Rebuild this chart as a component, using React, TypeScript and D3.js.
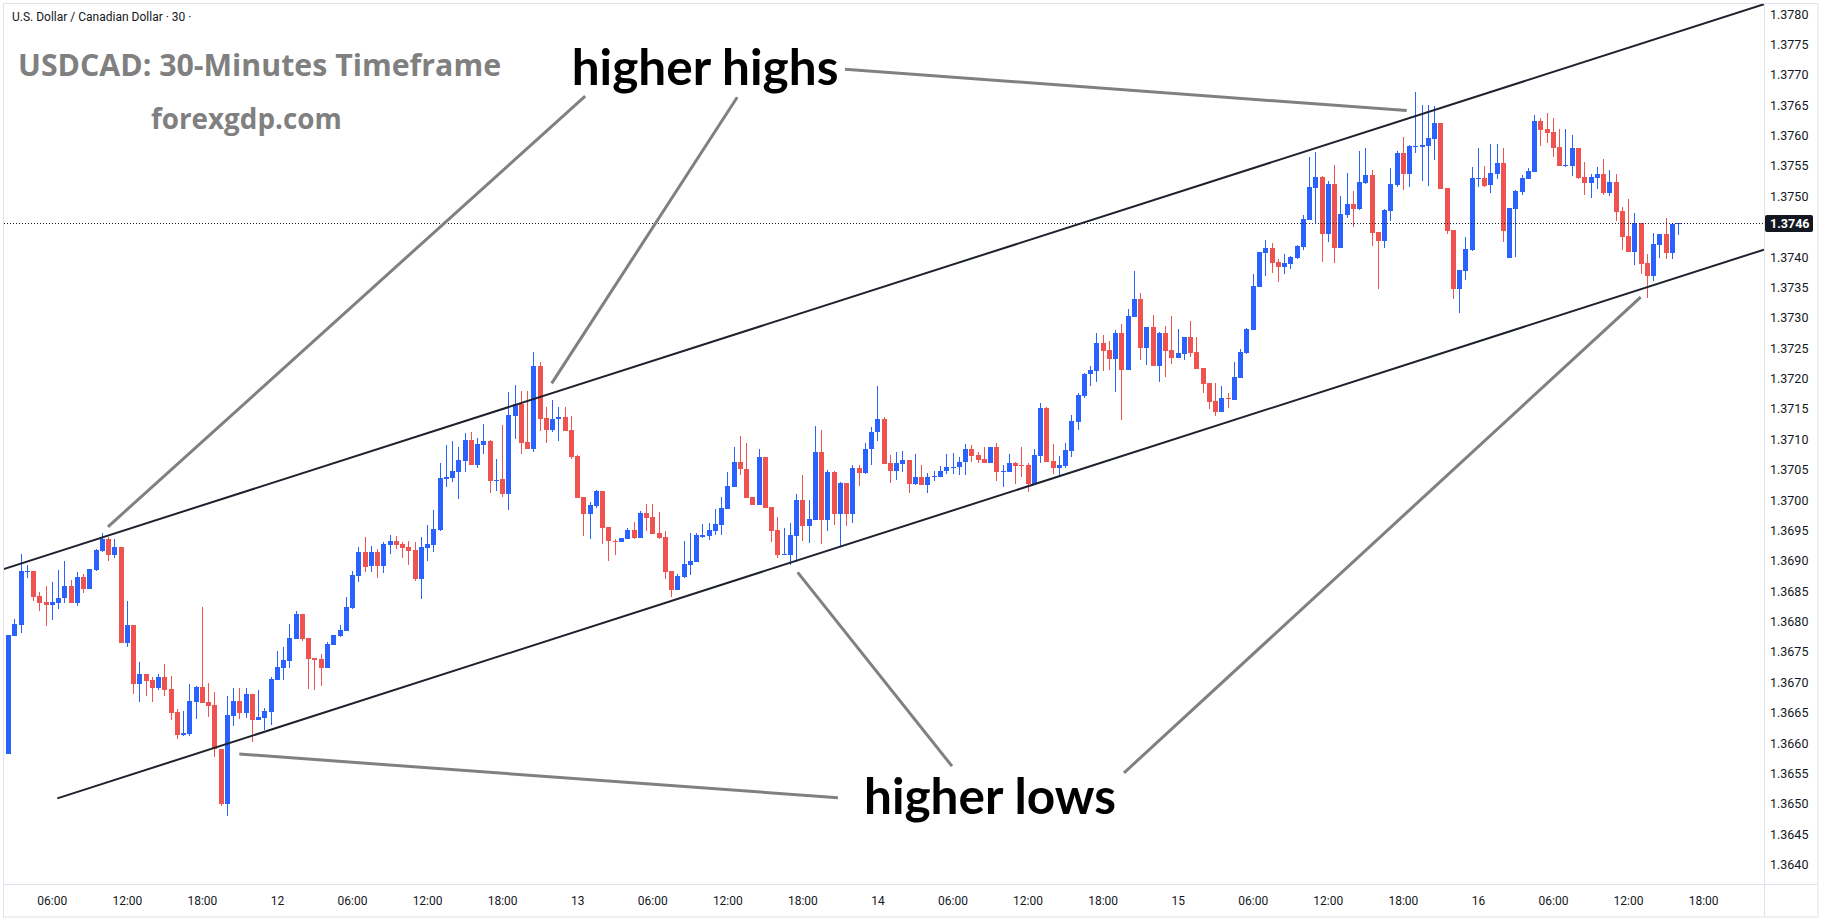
import * as d3 from 'd3'
import React from 'react'

// USDCAD 30-minute candles, first bar = day 11, 02:30
const FIRST_BAR = Date.UTC(2023, 8, 11, 2, 30)
const BAR_MS = 30 * 60 * 1000

const opens = [
  1.36582, 1.36777, 1.36794, 1.36882, 1.36883, 1.36842, 1.36832, 1.36828, 1.36831, 1.36838,
  1.36859, 1.36831, 1.36873, 1.36854, 1.36885, 1.36916, 1.36936, 1.36910, 1.36923, 1.36765,
  1.36794, 1.36697, 1.36714, 1.36704, 1.36691, 1.36709, 1.36689, 1.36651, 1.36613, 1.36615,
  1.36668, 1.36692, 1.36668, 1.36663, 1.36590, 1.36500, 1.36645, 1.36669, 1.36650, 1.36681,
  1.36638, 1.36641, 1.36651, 1.36704, 1.36724, 1.36735, 1.36771, 1.36812, 1.36773, 1.36740,
  1.36738, 1.36724, 1.36761, 1.36776, 1.36784, 1.36822, 1.36875, 1.36915, 1.36892, 1.36915,
  1.36892, 1.36926, 1.36933, 1.36928, 1.36923, 1.36918, 1.36870, 1.36921, 1.36926, 1.36951,
  1.37035, 1.37036, 1.37046, 1.37064, 1.37099, 1.37058, 1.37091, 1.37097, 1.37031, 1.37035,
  1.37010, 1.37138, 1.37158, 1.37096, 1.37084, 1.37221, 1.37135, 1.37115, 1.37133, 1.37137,
  1.37115, 1.37073, 1.37005, 1.36977, 1.36990, 1.37015, 1.36956, 1.36933, 1.36931, 1.36936,
  1.36951, 1.36938, 1.36979, 1.36972, 1.36946, 1.36939, 1.36883, 1.36852, 1.36873, 1.36893,
  1.36898, 1.36939, 1.36941, 1.36949, 1.36959, 1.36985, 1.37022, 1.37063, 1.37051, 1.37005,
  1.36992, 1.37071, 1.36989, 1.36951, 1.36910, 1.36910, 1.36941, 1.37000, 1.36957, 1.36967,
  1.37079, 1.36967, 1.37046, 1.36977, 1.37028, 1.36977, 1.37053, 1.37045, 1.37084, 1.37112,
  1.37133, 1.37061, 1.37048, 1.37059, 1.37066, 1.37026, 1.37038, 1.37025, 1.37038, 1.37038,
  1.37048, 1.37053, 1.37054, 1.37063, 1.37084, 1.37074, 1.37068, 1.37061, 1.37087, 1.37046,
  1.37046, 1.37061, 1.37058, 1.37058, 1.37026, 1.37073, 1.37152, 1.37064, 1.37053, 1.37056,
  1.37081, 1.37128, 1.37171, 1.37208, 1.37212, 1.37259, 1.37247, 1.37232, 1.37275, 1.37214,
  1.37301, 1.37331, 1.37250, 1.37285, 1.37221, 1.37275, 1.37247, 1.37234, 1.37240, 1.37268,
  1.37244, 1.37217, 1.37193, 1.37163, 1.37145, 1.37168, 1.37165, 1.37201, 1.37242, 1.37280,
  1.37351, 1.37407, 1.37415, 1.37392, 1.37384, 1.37389, 1.37398, 1.37416, 1.37461, 1.37514,
  1.37532, 1.37438, 1.37520, 1.37415, 1.37469, 1.37487, 1.37479, 1.37522, 1.37535, 1.37441,
  1.37426, 1.37476, 1.37519, 1.37571, 1.37537, 1.37581, 1.37581, 1.37583, 1.37594, 1.37621,
  1.37514, 1.37444, 1.37347, 1.37377, 1.37412, 1.37529, 1.37530, 1.37519, 1.37537, 1.37555,
  1.37398, 1.37479, 1.37507, 1.37528, 1.37540, 1.37624, 1.37611, 1.37606, 1.37581, 1.37550,
  1.37550, 1.37579, 1.37532, 1.37522, 1.37530, 1.37537, 1.37505, 1.37523, 1.37476, 1.37435,
  1.37408, 1.37456, 1.37390, 1.37369, 1.37420, 1.37438, 1.37407, 1.37454,
]

const highs = [
  1.36778, 1.36804, 1.36911, 1.36893, 1.36883, 1.36849, 1.36859, 1.36865, 1.36885, 1.36900,
  1.36868, 1.36882, 1.36878, 1.36887, 1.36920, 1.36946, 1.36940, 1.36936, 1.36923, 1.36834,
  1.36794, 1.36734, 1.36714, 1.36709, 1.36714, 1.36730, 1.36710, 1.36656, 1.36653, 1.36697,
  1.36694, 1.36824, 1.36699, 1.36684, 1.36590, 1.36678, 1.36691, 1.36691, 1.36691, 1.36681,
  1.36687, 1.36658, 1.36709, 1.36752, 1.36758, 1.36796, 1.36817, 1.36812, 1.36773, 1.36740,
  1.36747, 1.36766, 1.36778, 1.36794, 1.36840, 1.36883, 1.36923, 1.36939, 1.36924, 1.36920,
  1.36931, 1.36943, 1.36941, 1.36931, 1.36933, 1.36931, 1.36939, 1.36959, 1.36984, 1.37061,
  1.37091, 1.37097, 1.37087, 1.37110, 1.37112, 1.37102, 1.37125, 1.37099, 1.37068, 1.37124,
  1.37178, 1.37189, 1.37180, 1.37180, 1.37244, 1.37227, 1.37153, 1.37165, 1.37153, 1.37153,
  1.37138, 1.37074, 1.37005, 1.36997, 1.37017, 1.37015, 1.36956, 1.36936, 1.36938, 1.36954,
  1.36964, 1.36982, 1.36994, 1.36994, 1.36980, 1.36949, 1.36883, 1.36878, 1.36933, 1.36946,
  1.36946, 1.36961, 1.36962, 1.36985, 1.37005, 1.37046, 1.37087, 1.37105, 1.37094, 1.37005,
  1.37084, 1.37071, 1.36989, 1.36972, 1.36954, 1.36962, 1.37010, 1.37041, 1.37000, 1.37122,
  1.37115, 1.37049, 1.37048, 1.37030, 1.37028, 1.37058, 1.37058, 1.37094, 1.37120, 1.37188,
  1.37137, 1.37074, 1.37079, 1.37081, 1.37066, 1.37076, 1.37058, 1.37045, 1.37048, 1.37056,
  1.37076, 1.37077, 1.37071, 1.37092, 1.37091, 1.37079, 1.37087, 1.37087, 1.37094, 1.37058,
  1.37076, 1.37063, 1.37087, 1.37061, 1.37084, 1.37160, 1.37153, 1.37092, 1.37073, 1.37094,
  1.37140, 1.37176, 1.37209, 1.37221, 1.37275, 1.37272, 1.37262, 1.37280, 1.37290, 1.37314,
  1.37377, 1.37341, 1.37285, 1.37305, 1.37277, 1.37286, 1.37303, 1.37282, 1.37268, 1.37295,
  1.37268, 1.37217, 1.37193, 1.37193, 1.37188, 1.37176, 1.37227, 1.37249, 1.37283, 1.37372,
  1.37408, 1.37428, 1.37423, 1.37397, 1.37405, 1.37402, 1.37420, 1.37469, 1.37565, 1.37573,
  1.37533, 1.37525, 1.37551, 1.37500, 1.37538, 1.37509, 1.37574, 1.37579, 1.37543, 1.37441,
  1.37479, 1.37547, 1.37574, 1.37598, 1.37584, 1.37672, 1.37650, 1.37650, 1.37649, 1.37621,
  1.37514, 1.37444, 1.37379, 1.37433, 1.37548, 1.37579, 1.37550, 1.37586, 1.37586, 1.37579,
  1.37481, 1.37510, 1.37535, 1.37547, 1.37634, 1.37629, 1.37637, 1.37629, 1.37611, 1.37611,
  1.37601, 1.37579, 1.37556, 1.37537, 1.37548, 1.37561, 1.37543, 1.37537, 1.37482, 1.37495,
  1.37472, 1.37456, 1.37405, 1.37439, 1.37438, 1.37464, 1.37456, 1.37456,
]

const lows = [
  1.36582, 1.36777, 1.36782, 1.36872, 1.36834, 1.36818, 1.36792, 1.36803, 1.36821, 1.36830,
  1.36831, 1.36825, 1.36847, 1.36854, 1.36884, 1.36915, 1.36900, 1.36905, 1.36765, 1.36758,
  1.36681, 1.36668, 1.36678, 1.36668, 1.36687, 1.36678, 1.36638, 1.36607, 1.36612, 1.36612,
  1.36640, 1.36666, 1.36643, 1.36577, 1.36496, 1.36480, 1.36628, 1.36640, 1.36641, 1.36602,
  1.36638, 1.36622, 1.36630, 1.36704, 1.36704, 1.36724, 1.36771, 1.36768, 1.36689, 1.36687,
  1.36694, 1.36724, 1.36761, 1.36775, 1.36784, 1.36821, 1.36865, 1.36882, 1.36882, 1.36872,
  1.36880, 1.36911, 1.36920, 1.36905, 1.36893, 1.36867, 1.36837, 1.36900, 1.36915, 1.36949,
  1.37022, 1.37030, 1.37002, 1.37046, 1.37058, 1.37053, 1.37076, 1.37012, 1.37015, 1.37005,
  1.36984, 1.37101, 1.37076, 1.37084, 1.37079, 1.37114, 1.37094, 1.37112, 1.37097, 1.37114,
  1.37068, 1.37003, 1.36941, 1.36936, 1.36987, 1.36928, 1.36900, 1.36910, 1.36931, 1.36936,
  1.36936, 1.36938, 1.36949, 1.36944, 1.36936, 1.36870, 1.36840, 1.36852, 1.36872, 1.36877,
  1.36898, 1.36938, 1.36934, 1.36943, 1.36943, 1.36985, 1.37022, 1.37041, 1.37003, 1.36992,
  1.36992, 1.36987, 1.36931, 1.36905, 1.36910, 1.36893, 1.36898, 1.36933, 1.36929, 1.36967,
  1.36928, 1.36949, 1.36959, 1.36923, 1.36957, 1.36962, 1.37023, 1.37043, 1.37058, 1.37097,
  1.37059, 1.37028, 1.37033, 1.37046, 1.37012, 1.37025, 1.37025, 1.37012, 1.37031, 1.37038,
  1.37043, 1.37043, 1.37041, 1.37041, 1.37063, 1.37061, 1.37061, 1.37061, 1.37031, 1.37022,
  1.37046, 1.37026, 1.37038, 1.37013, 1.37026, 1.37061, 1.37063, 1.37043, 1.37040, 1.37053,
  1.37071, 1.37115, 1.37168, 1.37188, 1.37194, 1.37212, 1.37214, 1.37178, 1.37132, 1.37214,
  1.37301, 1.37231, 1.37222, 1.37221, 1.37194, 1.37202, 1.37224, 1.37234, 1.37231, 1.37235,
  1.37216, 1.37176, 1.37150, 1.37138, 1.37145, 1.37152, 1.37165, 1.37201, 1.37240, 1.37280,
  1.37351, 1.37369, 1.37374, 1.37359, 1.37372, 1.37380, 1.37397, 1.37412, 1.37461, 1.37456,
  1.37392, 1.37425, 1.37390, 1.37415, 1.37464, 1.37450, 1.37477, 1.37520, 1.37418, 1.37347,
  1.37415, 1.37459, 1.37515, 1.37510, 1.37515, 1.37571, 1.37525, 1.37517, 1.37560, 1.37512,
  1.37438, 1.37331, 1.37308, 1.37362, 1.37410, 1.37515, 1.37515, 1.37505, 1.37528, 1.37425,
  1.37398, 1.37400, 1.37502, 1.37528, 1.37540, 1.37583, 1.37588, 1.37565, 1.37550, 1.37548,
  1.37533, 1.37528, 1.37502, 1.37497, 1.37512, 1.37502, 1.37500, 1.37459, 1.37412, 1.37408,
  1.37387, 1.37372, 1.37333, 1.37361, 1.37398, 1.37397, 1.37397, 1.37436,
]

const closes = [
  1.36778, 1.36796, 1.36883, 1.36883, 1.36841, 1.36831, 1.36828, 1.36832, 1.36839, 1.36859,
  1.36831, 1.36873, 1.36854, 1.36887, 1.36918, 1.36936, 1.36910, 1.36923, 1.36765, 1.36794,
  1.36697, 1.36714, 1.36702, 1.36691, 1.36709, 1.36687, 1.36650, 1.36613, 1.36617, 1.36669,
  1.36692, 1.36666, 1.36661, 1.36590, 1.36500, 1.36646, 1.36669, 1.36650, 1.36681, 1.36638,
  1.36643, 1.36653, 1.36706, 1.36725, 1.36737, 1.36773, 1.36812, 1.36771, 1.36738, 1.36737,
  1.36724, 1.36763, 1.36778, 1.36786, 1.36824, 1.36877, 1.36915, 1.36890, 1.36915, 1.36892,
  1.36928, 1.36933, 1.36926, 1.36921, 1.36916, 1.36870, 1.36923, 1.36928, 1.36952, 1.37036,
  1.37038, 1.37048, 1.37066, 1.37099, 1.37058, 1.37092, 1.37097, 1.37031, 1.37033, 1.37010,
  1.37140, 1.37158, 1.37094, 1.37084, 1.37221, 1.37133, 1.37115, 1.37133, 1.37137, 1.37114,
  1.37071, 1.37003, 1.36977, 1.36992, 1.37015, 1.36954, 1.36933, 1.36931, 1.36938, 1.36951,
  1.36938, 1.36979, 1.36971, 1.36944, 1.36938, 1.36882, 1.36852, 1.36875, 1.36895, 1.36900,
  1.36943, 1.36943, 1.36951, 1.36961, 1.36987, 1.37023, 1.37063, 1.37051, 1.37003, 1.36992,
  1.37071, 1.36987, 1.36949, 1.36910, 1.36911, 1.36943, 1.37000, 1.36957, 1.36969, 1.37079,
  1.36967, 1.37046, 1.36977, 1.37028, 1.36977, 1.37053, 1.37045, 1.37084, 1.37112, 1.37133,
  1.37059, 1.37048, 1.37061, 1.37066, 1.37026, 1.37038, 1.37025, 1.37038, 1.37039, 1.37048,
  1.37054, 1.37055, 1.37063, 1.37084, 1.37073, 1.37066, 1.37061, 1.37087, 1.37046, 1.37048,
  1.37061, 1.37056, 1.37056, 1.37026, 1.37074, 1.37152, 1.37063, 1.37053, 1.37058, 1.37082,
  1.37130, 1.37173, 1.37208, 1.37214, 1.37259, 1.37245, 1.37232, 1.37275, 1.37214, 1.37303,
  1.37331, 1.37250, 1.37285, 1.37221, 1.37275, 1.37245, 1.37234, 1.37242, 1.37268, 1.37242,
  1.37216, 1.37191, 1.37161, 1.37145, 1.37168, 1.37166, 1.37203, 1.37244, 1.37282, 1.37352,
  1.37408, 1.37415, 1.37390, 1.37384, 1.37390, 1.37400, 1.37418, 1.37463, 1.37515, 1.37532,
  1.37438, 1.37520, 1.37415, 1.37471, 1.37487, 1.37479, 1.37523, 1.37535, 1.37440, 1.37426,
  1.37477, 1.37520, 1.37571, 1.37537, 1.37583, 1.37583, 1.37584, 1.37596, 1.37621, 1.37512,
  1.37443, 1.37347, 1.37379, 1.37413, 1.37530, 1.37530, 1.37517, 1.37538, 1.37555, 1.37443,
  1.37481, 1.37509, 1.37530, 1.37542, 1.37624, 1.37609, 1.37604, 1.37579, 1.37550, 1.37551,
  1.37579, 1.37530, 1.37522, 1.37532, 1.37537, 1.37505, 1.37523, 1.37474, 1.37433, 1.37408,
  1.37456, 1.37389, 1.37369, 1.37421, 1.37438, 1.37407, 1.37454, 1.37456,
]

// price axis range and step
const priceMin = 1.364
const priceMax = 1.378
const priceStep = 0.0005

// drawings: [bar index, price]
const upperChannel = [[0, 1.36889], [267, 1.37771]]
const lowerChannel = [[7.8, 1.36509], [267, 1.37367]]
const pointerLines = [
  [[92.2, 1.37665], [15.9, 1.36956]],
  [[116.5, 1.37663], [86.84, 1.37192]],
  [[133.73, 1.37709], [223.54, 1.37641]],
  [[132.6, 1.36510], [36.9, 1.36582]],
  [[150.84, 1.36562], [126.17, 1.36881]],
  [[178.34, 1.36551], [260.94, 1.37334]],
]
const noteLabels = ['higher highs', 'higher lows']
const noteAnchors = [[90.04, 1.37683], [136.77, 1.36483]]

const W = 1823
const H = 921
const PANE_L = 4
const PANE_T = 4
const PANE_R = 1764
const PANE_B = 884
const FRAME_R = 1818
const FRAME_B = 917
const BLUE = '#2962ff'
const RED = '#ef5350'
const INK = '#131722'
const AXIS_FONT = 'Roboto, "Liberation Sans", Arial, sans-serif'

export default function App() {
  const x = d3.scaleLinear().domain([0, 267]).range([8.5, 8.5 + 267 * 6.255])
  const y = d3.scaleLinear().domain([priceMin, priceMax]).range([864.6, 14])

  const yTicks = d3.range(0, Math.round((priceMax - priceMin) / priceStep) + 1).map((k) => priceMin + k * priceStep)

  const timeOf = (i: number) => new Date(FIRST_BAR + i * BAR_MS)
  const fmtHour = d3.utcFormat('%H:%M')
  const fmtDay = d3.utcFormat('%-d')
  const xTicks = d3
    .range(Math.ceil(x.invert(PANE_L)), Math.floor(x.invert(PANE_R - 20)) + 1)
    .filter((i) => {
      const t = timeOf(i)
      return t.getUTCMinutes() === 0 && t.getUTCHours() % 6 === 0
    })

  const candles = opens.map((o, i) => ({ i, o, h: highs[i], l: lows[i], c: closes[i] }))
  const last = closes[closes.length - 1]

  const extend = (pts: number[][], left: boolean, right: boolean) => {
    const x1 = x(pts[0][0]), y1 = y(pts[0][1])
    const x2 = x(pts[1][0]), y2 = y(pts[1][1])
    const m = (y2 - y1) / (x2 - x1)
    const xa = left ? 0 : x1
    const xb = right ? PANE_R : x2
    return { x1: xa, y1: y1 + m * (xa - x1), x2: xb, y2: y1 + m * (xb - x1) }
  }
  const up = extend(upperChannel, true, true)
  const lo = extend(lowerChannel, false, true)

  return (
    <svg
      width={W}
      height={H}
      style={{ position: 'absolute', left: 0, top: 0, background: '#fff' }}
    >
      <defs>
        <clipPath id="pane">
          <rect x={PANE_L} y={PANE_T} width={PANE_R - PANE_L} height={PANE_B - PANE_T} />
        </clipPath>
      </defs>
      <rect x={0} y={0} width={W} height={H} fill="#fff" />

      <g clipPath="url(#pane)">
        {candles.map((d) => {
          const left = Math.round(x(d.i) - 2.5)
          const col = d.c >= d.o ? BLUE : RED
          const top = Math.round(y(Math.max(d.o, d.c)))
          const bot = Math.round(y(Math.min(d.o, d.c)))
          const wt = Math.round(y(d.h))
          const wb = Math.round(y(d.l))
          return (
            <g key={d.i}>
              <rect x={left + 2} y={wt} width={1} height={Math.max(1, wb - wt)} fill={col} />
              <rect x={left} y={top} width={5} height={Math.max(1, bot - top)} fill={col} />
            </g>
          )
        })}

        <line
          x1={PANE_L}
          x2={PANE_R}
          y1={Math.round(y(last)) + 0.5}
          y2={Math.round(y(last)) + 0.5}
          stroke={INK}
          strokeWidth={1}
          strokeDasharray="1 2"
        />

        <line {...up} stroke="#1e222d" strokeWidth={2} />
        <line {...lo} stroke="#1e222d" strokeWidth={2} />

        {pointerLines.map((p, k) => (
          <line
            key={k}
            x1={x(p[0][0])}
            y1={y(p[0][1])}
            x2={x(p[1][0])}
            y2={y(p[1][1])}
            stroke="#808080"
            strokeWidth={3}
          />
        ))}
      </g>

      {noteLabels.map((t, k) => (
        <text
          key={t}
          x={x(noteAnchors[k][0])}
          y={y(noteAnchors[k][1])}
          fontFamily="Lato, 'Open Sans', sans-serif"
          fontWeight={700}
          fontSize={49.5}
          fill="#000"
        >
          {t}
        </text>
      ))}

      <text x={18} y={76} fontFamily="'Open Sans', sans-serif" fontWeight={700} fontSize={30.3} fill="#808080">
        USDCAD: 30-Minutes Timeframe
      </text>
      <text x={151} y={129} fontFamily="'Open Sans', sans-serif" fontWeight={700} fontSize={27.8} fill="#808080">
        forexgdp.com
      </text>
      <text x={12} y={21} fontFamily={AXIS_FONT} fontSize={12} fill={INK}>
        U.S. Dollar / Canadian Dollar · 30 ·
      </text>

      {/* frame and axis separators */}
      <rect x={3.5} y={3.5} width={FRAME_R - 3.5} height={FRAME_B - 3.5} fill="none" stroke="#e0e3eb" />
      <line x1={PANE_R + 0.5} x2={PANE_R + 0.5} y1={3.5} y2={FRAME_B} stroke="#e0e3eb" />
      <line x1={3.5} x2={FRAME_R} y1={PANE_B + 0.5} y2={PANE_B + 0.5} stroke="#e0e3eb" />

      {/* price axis */}
      {yTicks.map((v) => (
        <text
          key={v}
          x={PANE_R + 6}
          y={y(v)}
          dominantBaseline="central"
          fontFamily={AXIS_FONT}
          fontSize={12.5}
          fill={INK}
        >
          {d3.format('.4f')(v)}
        </text>
      ))}
      <rect x={PANE_R + 1} y={y(last) - 8} width={48} height={17} rx={2} fill={INK} />
      <text
        x={PANE_R + 6}
        y={y(last) + 0.5}
        dominantBaseline="central"
        fontFamily={AXIS_FONT}
        fontSize={12.5}
        fontWeight={700}
        fill="#fff"
      >
        {d3.format('.4f')(last)}
      </text>

      {/* time axis */}
      {xTicks.map((i) => {
        const t = timeOf(i)
        const label = t.getUTCHours() === 0 ? fmtDay(t) : fmtHour(t)
        return (
          <text
            key={i}
            x={x(i)}
            y={901}
            textAnchor="middle"
            dominantBaseline="central"
            fontFamily={AXIS_FONT}
            fontSize={12}
            fill={INK}
          >
            {label}
          </text>
        )
      })}
    </svg>
  )
}
